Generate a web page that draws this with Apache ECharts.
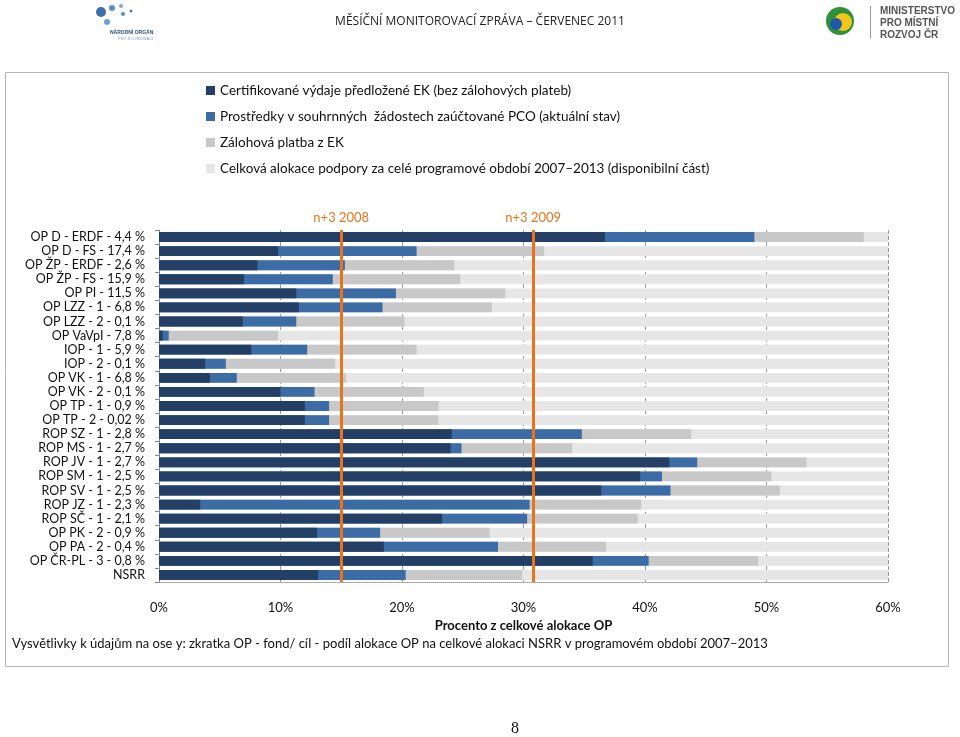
<!DOCTYPE html>
<html><head><meta charset="utf-8">
<script src="https://cdn.jsdelivr.net/npm/echarts@6/dist/echarts.min.js"></script>
<style>html,body{margin:0;padding:0;background:#fff}#c{width:960px;height:737px}</style>
</head><body><div id="c"></div>
<script>
const categories = ["OP D - ERDF - 4,4 %","OP D - FS - 17,4 %","OP ŽP - ERDF - 2,6 %","OP ŽP - FS - 15,9 %","OP PI - 11,5 %","OP LZZ - 1 - 6,8 %","OP LZZ - 2 - 0,1 %","OP VaVpI - 7,8 %","IOP - 1 - 5,9 %","IOP - 2 - 0,1 %","OP VK - 1 - 6,8 %","OP VK - 2 - 0,1 %","OP TP - 1 - 0,9 %","OP TP - 2 - 0,02 %","ROP SZ - 1 - 2,8 %","ROP MS - 1 - 2,7 %","ROP JV - 1 - 2,7 %","ROP SM - 1 - 2,5 %","ROP SV - 1 - 2,5 %","ROP JZ - 1 - 2,3 %","ROP SČ - 1 - 2,1 %","OP PK - 2 - 0,9 %","OP PA - 2 - 0,4 %","OP ČR-PL - 3 - 0,8 %","NSRR"];
const certified = [36.7,9.8,8.1,7.0,11.3,11.5,6.9,0.3,7.6,3.8,4.2,10.0,12.0,12.0,24.1,24.0,42.0,39.6,36.4,3.4,23.3,13.0,18.5,35.7,13.1];
const pco = [49.0,21.2,15.3,14.3,19.5,18.4,11.3,0.8,12.2,5.5,6.4,12.8,14.0,14.0,34.8,24.9,44.3,41.4,42.1,30.5,30.3,18.2,27.9,40.3,20.3];
const advance = [58.0,31.7,24.3,24.8,28.5,27.4,20.2,9.8,21.2,14.5,15.4,21.8,23.0,23.0,43.8,34.0,53.3,50.4,51.1,39.7,39.4,27.2,36.8,49.3,29.9];
const allocation = [100,100,100,100,100,100,100,100,100,100,100,100,100,100,100,100,100,100,100,100,100,100,100,100,100];
const seriesNames = ["Certifikované výdaje předložené EK (bez zálohových plateb)","Prostředky v souhrnných  žádostech zaúčtované PCO (aktuální stav)","Zálohová platba z EK","Celková alokace podpory za celé programové období 2007–2013 (disponibilní část)"];
const deadlines = [{name:"n+3 2008", value:15},{name:"n+3 2009", value:30.8}];
const xTicks = {min:0, max:60, interval:10};

const FONT = "Lato";
const chart = echarts.init(document.getElementById('c'), null, {renderer:'canvas'});
const colors = ['#243f66','#3c6ca6','#c8c8c8','#e6e6e6'];
const data = [certified, pco, advance, allocation];
const mlStyle = {color:'#e8731a', width:3, type:'solid'};
const series = seriesNames.map((n,i)=>({
  name:n, type:'bar', data:data[i], barWidth:'70%', barGap:'-100%', clip:true,
  z: 10 - i, itemStyle:{color:colors[i]}, silent:true,
  markLine: i===0 ? {
    z:30, symbol:['none','none'], silent:true, animation:false,
    lineStyle:mlStyle,
    emphasis:{disabled:true, lineStyle:mlStyle},
    label:{show:true, position:'start', formatter:'{b}', color:'#e8731a', fontFamily:FONT, fontSize:13, distance:6},
    data: deadlines.map(d=>({name:d.name, xAxis:d.value}))
  } : undefined
}));
chart.setOption({
  animation:false,
  textStyle:{fontFamily:FONT},
  legend:{orient:'vertical', left:201, top:78, itemWidth:9, itemHeight:9, itemGap:11,
    icon:'rect', textStyle:{fontFamily:FONT, fontSize:13.5, color:'#111', lineHeight:15},
    data:seriesNames},
  grid:{left:159, right:72, top:230, bottom:155},
  xAxis:{type:'value', min:xTicks.min, max:xTicks.max, interval:xTicks.interval,
    axisLabel:{formatter:'{value}%', color:'#111', fontSize:13, margin:19, fontFamily:FONT},
    axisLine:{show:true, lineStyle:{color:'#999', type:'dotted'}}, axisTick:{show:false},
    splitLine:{show:true, lineStyle:{color:'#999', type:'dashed'}},
    name:'Procento z celkové alokace OP', nameLocation:'middle', nameGap:37,
    nameTextStyle:{fontWeight:'bold', fontSize:13, color:'#111', fontFamily:FONT}},
  yAxis:{type:'category', data:categories, inverse:true,
    axisLabel:{color:'#111', fontSize:12.5, margin:14, fontFamily:FONT, interval:0},
    axisLine:{show:true, lineStyle:{color:'#888'}}, axisTick:{show:true, length:4, interval:0, lineStyle:{color:'#888'}},
    splitLine:{show:false}},
  graphic:[
    {type:'rect', left:3, top:70, shape:{width:943, height:594}, style:{fill:'none', stroke:'#b5b5b5', lineWidth:1}, z:-1, silent:true},
    {type:'text', left:'center', top:16, style:{text:'MĚSÍČNÍ MONITOROVACÍ ZPRÁVA – ČERVENEC 2011', fontFamily:'Open Sans', fontSize:12, fill:'#222'}, silent:true},
    {type:'circle', shape:{cx:101, cy:12, r:5}, style:{fill:'#3f6fa8'}},
    {type:'circle', shape:{cx:112, cy:8, r:3}, style:{fill:'#5a8fc5'}},
    {type:'circle', shape:{cx:121, cy:6, r:2}, style:{fill:'#7aa9d6'}},
    {type:'circle', shape:{cx:107, cy:22, r:3}, style:{fill:'#6f9fd0'}},
    {type:'circle', shape:{cx:123, cy:14, r:2}, style:{fill:'#5a8fc5'}},
    {type:'circle', shape:{cx:131, cy:11, r:1.5}, style:{fill:'#4b7db8'}},
    {type:'text', left:110, top:30, style:{text:'NÁRODNÍ ORGÁN', fontFamily:'Liberation Sans', fontSize:5, fontWeight:'bold', fill:'#2b4f80'}},
    {type:'text', left:118, top:37, style:{text:'PRO KOORDINACI', fontFamily:'Liberation Sans', fontSize:4, fill:'#7a9cc4'}},
    {type:'circle', shape:{cx:840, cy:21, r:14}, style:{fill:'#2f8f3a'}},
    {type:'circle', shape:{cx:843, cy:22, r:9}, style:{fill:'#f2c618'}},
    {type:'circle', shape:{cx:836, cy:24, r:6}, style:{fill:'#1e5aa8'}},
    {type:'rect', shape:{x:870, y:6, width:1, height:32}, style:{fill:'#999'}},
    {type:'text', left:880, top:5, style:{text:'MINISTERSTVO\nPRO MÍSTNÍ\nROZVOJ ČR', fontFamily:'Liberation Sans', fontSize:10, fontWeight:'bold', lineHeight:12, fill:'#555'}},
    {type:'text', left:12, top:637, style:{text:'Vysvětlivky k údajům na ose y: zkratka OP - fond/ cíl - podíl alokace OP na celkové alokaci NSRR v programovém období 2007–2013', fontFamily:FONT, fontSize:13, fill:'#111'}, silent:true},
    {type:'text', left:511, top:721, style:{text:'8', fontFamily:'Liberation Serif', fontSize:16, fill:'#111'}, silent:true}
  ],
  series:series
});
</script></body></html>
